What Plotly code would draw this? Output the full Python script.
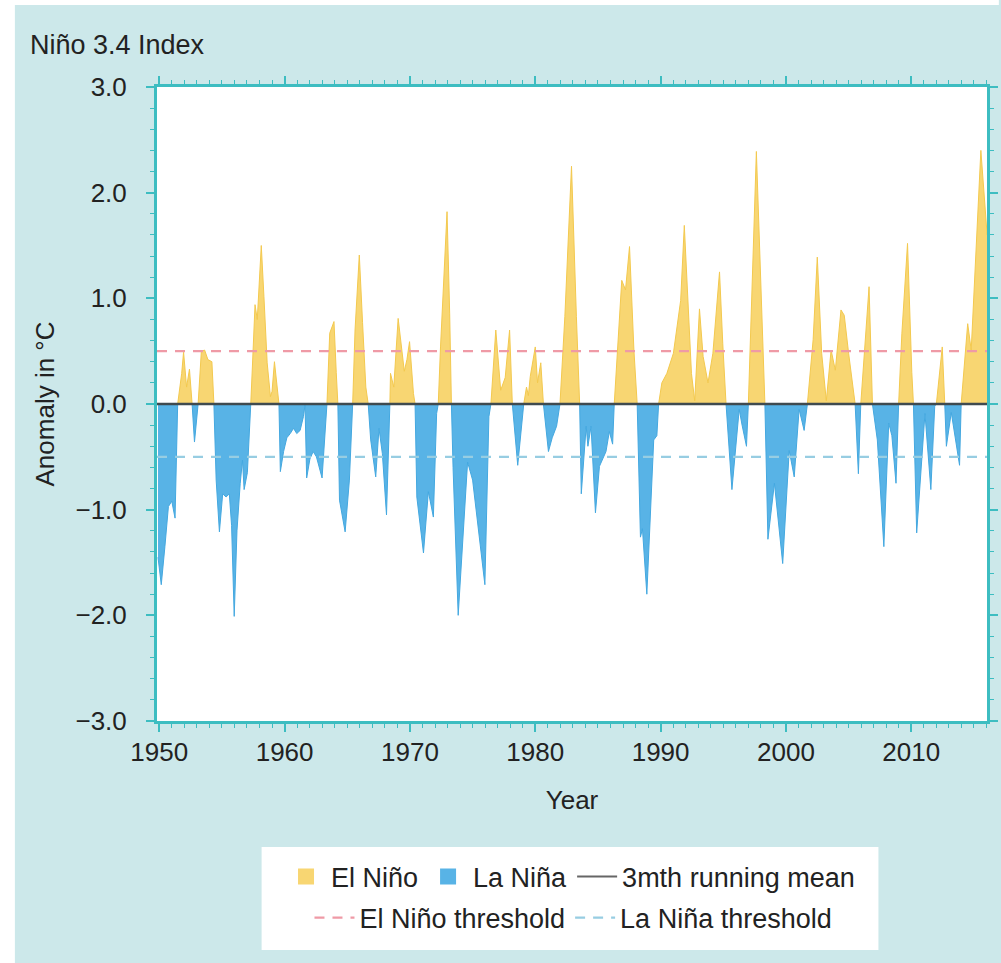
import plotly.graph_objects as go

# ---- data (3-month running mean of Niño 3.4 anomaly, °C) ----
years = [
    1949.90, 1950.16, 1950.45, 1950.73, 1951.00, 1951.26, 1951.47, 1951.79, 1951.94, 1952.18,
    1952.41, 1952.62, 1952.81, 1953.10, 1953.36, 1953.62, 1953.88, 1954.20, 1954.36, 1954.54,
    1954.80, 1955.06, 1955.33, 1955.59, 1955.77, 1955.98, 1956.20, 1956.46, 1956.64, 1956.77,
    1957.03, 1957.30, 1957.43, 1957.64, 1957.82, 1958.14, 1958.35, 1958.61, 1958.87, 1959.00,
    1959.19, 1959.45, 1959.55, 1959.66, 1959.92, 1960.18, 1960.45, 1960.71, 1960.97, 1961.24,
    1961.50, 1961.63, 1961.76, 1962.02, 1962.28, 1962.54, 1962.99, 1963.38, 1963.60, 1963.94,
    1964.12, 1964.25, 1964.38, 1964.83, 1965.17, 1965.43, 1965.62, 1965.96, 1966.22, 1966.48,
    1966.67, 1966.87, 1967.27, 1967.53, 1967.80, 1968.13, 1968.32, 1968.40, 1968.45, 1968.71,
    1969.06, 1969.37, 1969.55, 1969.76, 1969.97, 1970.28, 1970.41, 1970.55, 1971.08, 1971.47,
    1971.87, 1972.13, 1972.26, 1972.44, 1972.96, 1973.17, 1973.31, 1973.44, 1973.85, 1974.60,
    1975.00, 1975.98, 1976.30, 1976.46, 1976.85, 1977.24, 1977.60, 1977.95, 1978.17, 1978.60,
    1979.08, 1979.30, 1979.45, 1979.60, 1979.87, 1980.00, 1980.18, 1980.44, 1980.65, 1981.05,
    1981.35, 1981.70, 1981.97, 1982.36, 1982.89, 1983.28, 1983.54, 1983.67, 1984.06, 1984.20,
    1984.45, 1984.80, 1985.12, 1985.64, 1985.91, 1986.17, 1986.30, 1986.90, 1987.20, 1987.52,
    1987.87, 1988.13, 1988.39, 1988.55, 1988.90, 1989.45, 1989.70, 1989.84, 1990.10, 1990.50,
    1991.02, 1991.28, 1991.60, 1991.89, 1992.20, 1992.46, 1992.72, 1993.10, 1993.39, 1993.78,
    1994.17, 1994.70, 1994.96, 1995.22, 1995.69, 1996.27, 1996.50, 1996.85, 1997.00, 1997.64,
    1998.11, 1998.32, 1998.56, 1999.08, 1999.74, 2000.26, 2000.66, 2001.05, 2001.45, 2001.71,
    2002.17, 2002.50, 2002.85, 2003.22, 2003.60, 2003.94, 2004.39, 2004.65, 2005.00, 2005.52,
    2005.78, 2005.97, 2006.63, 2006.90, 2007.29, 2007.81, 2008.20, 2008.45, 2008.78, 2008.99,
    2009.25, 2009.70, 2010.04, 2010.17, 2010.43, 2011.09, 2011.56, 2011.87, 2012.00, 2012.47,
    2012.67, 2012.80, 2013.19, 2013.85, 2013.98, 2014.50, 2014.78, 2015.55, 2015.95, 2016.05,
]
anomaly = [
    -1.45, -1.71, -1.35, -0.97, -0.92, -1.08, 0.00, 0.29, 0.49, 0.16,
    0.33, 0.00, -0.36, 0.00, 0.50, 0.51, 0.42, 0.40, 0.00, -0.72,
    -1.21, -0.85, -0.88, -0.85, -1.15, -2.01, -1.20, -0.75, -0.53, -0.81,
    -0.65, 0.00, 0.35, 0.94, 0.80, 1.50, 1.02, 0.39, 0.07, 0.12,
    0.40, 0.15, 0.00, -0.64, -0.45, -0.32, -0.28, -0.23, -0.28, -0.25,
    -0.12, -0.01, -0.70, -0.52, -0.45, -0.50, -0.70, 0.00, 0.67, 0.78,
    0.30, 0.00, -0.91, -1.21, -0.72, 0.00, 0.70, 1.41, 0.77, 0.16,
    0.00, -0.34, -0.69, -0.23, -0.47, -1.05, -0.24, 0.00, 0.29, 0.16,
    0.81, 0.48, 0.31, 0.42, 0.59, 0.10, 0.00, -0.88, -1.41, -0.83,
    -1.07, -0.09, 0.00, 0.54, 1.82, 0.86, 0.00, -0.60, -2.00, -0.55,
    -0.72, -1.71, -0.12, 0.00, 0.70, 0.13, 0.25, 0.70, 0.00, -0.58,
    0.00, 0.16, 0.08, 0.26, 0.45, 0.54, 0.20, 0.39, 0.00, -0.45,
    -0.32, -0.21, 0.00, 0.83, 2.25, 0.83, 0.00, -0.85, -0.21, -0.40,
    -0.21, -1.03, -0.59, -0.45, -0.26, -0.38, 0.00, 1.17, 1.08, 1.49,
    0.51, 0.00, -1.26, -1.18, -1.80, -0.34, -0.30, 0.00, 0.20, 0.29,
    0.48, 0.73, 0.98, 1.69, 0.92, 0.29, 0.03, 0.90, 0.45, 0.20,
    0.48, 1.25, 0.57, 0.00, -0.81, -0.05, -0.20, -0.40, 0.00, 2.39,
    0.61, 0.00, -1.28, -0.75, -1.51, -0.44, -0.69, -0.05, -0.25, 0.00,
    0.61, 1.39, 0.48, 0.03, 0.51, 0.32, 0.89, 0.84, 0.48, 0.00,
    -0.66, 0.00, 1.11, 0.00, -0.34, -1.35, -0.18, -0.30, -0.75, 0.00,
    0.67, 1.52, 0.30, 0.00, -1.22, -0.09, -0.81, -0.02, 0.00, 0.54,
    0.00, -0.40, -0.08, -0.58, 0.00, 0.76, 0.51, 2.40, 1.80, 1.60,
]
el_nino_threshold = 0.5
la_nina_threshold = -0.5
x_range = [1949.82, 2016.04]
x_tick_values = [1950, 1960, 1970, 1980, 1990, 2000, 2010]
y_tick_values = [-3, -2, -1, 0, 1, 2, 3]

# ---- colours ----
TEAL_BG = "#cce8ea"
TEAL_AX = "#3dbdc1"
YELLOW = "#f8d672"
YELLOW_EDGE = "#f3c94f"
BLUE = "#58b3e6"
BLUE_EDGE = "#44a8e0"
RED_DASH = "#ef9aa6"
BLUE_DASH = "#97cde2"
TXT = "#222222"
FONT = "Liberation Sans, Arial, sans-serif"


def split_sign(xs, ys):
    """Insert zero crossings, then split into positive and negative parts."""
    px, py = [xs[0]], [ys[0]]
    for i in range(1, len(xs)):
        y0, y1 = ys[i - 1], ys[i]
        if y0 * y1 < 0:
            xc = xs[i - 1] + (xs[i] - xs[i - 1]) * (-y0) / (y1 - y0)
            px.append(xc)
            py.append(0.0)
        px.append(xs[i])
        py.append(ys[i])
    pos = [max(v, 0.0) for v in py]
    neg = [min(v, 0.0) for v in py]
    return px, pos, neg


xx, pos_vals, neg_vals = split_sign(years, anomaly)

fig = go.Figure()

fig.add_trace(go.Scatter(
    x=xx, y=pos_vals, mode="lines", fill="tozeroy",
    line=dict(color=YELLOW_EDGE, width=1), fillcolor=YELLOW,
    name="El Niño", legendgroup="elnino", showlegend=False,
    hovertemplate="%{x:.2f}: %{y:.2f} °C<extra></extra>",
))
fig.add_trace(go.Scatter(
    x=xx, y=neg_vals, mode="lines", fill="tozeroy",
    line=dict(color=BLUE_EDGE, width=1), fillcolor=BLUE,
    name="La Niña", legendgroup="lanina", showlegend=False,
    hovertemplate="%{x:.2f}: %{y:.2f} °C<extra></extra>",
))

# threshold lines
fig.add_trace(go.Scatter(
    x=x_range, y=[el_nino_threshold] * 2, mode="lines",
    line=dict(color=RED_DASH, width=2.2, dash="10px,8px"),
    name="El Niño threshold", legend="legend2", hoverinfo="skip",
))
fig.add_trace(go.Scatter(
    x=x_range, y=[la_nina_threshold] * 2, mode="lines",
    line=dict(color=BLUE_DASH, width=2.2, dash="10px,8px"),
    name="La Niña threshold", legend="legend2", hoverinfo="skip",
))

# legend swatches (row 1)
fig.add_trace(go.Scatter(
    x=[None], y=[None], mode="markers",
    marker=dict(symbol="square", size=16, color=YELLOW),
    name="El Niño", legendgroup="elnino", legend="legend",
))
fig.add_trace(go.Scatter(
    x=[None], y=[None], mode="markers",
    marker=dict(symbol="square", size=16, color=BLUE),
    name="La Niña", legendgroup="lanina", legend="legend",
))
fig.add_trace(go.Scatter(
    x=[None], y=[None], mode="lines",
    line=dict(color="#666666", width=2),
    name="3mth running mean", legend="legend",
))

# plot geometry (px): plot area x 157..998, y 87..721 in a 1001x963 page
L, R, T, B = 157, 3, 87, 242
W, H = 1001, 963
PW, PH = W - L - R, H - T - B


def px_x(p):
    return (p - L) / PW


def px_y(p):
    return (H - B - p) / PH


shapes = [
    # white strips outside the teal panel
    dict(type="rect", xref="paper", yref="paper", x0=px_x(-5), x1=px_x(13),
         y0=px_y(970), y1=px_y(-5), fillcolor="white", line_width=0, layer="below"),
    dict(type="rect", xref="paper", yref="paper", x0=px_x(-5), x1=px_x(1010),
         y0=px_y(5), y1=px_y(-5), fillcolor="white", line_width=0, layer="below"),
    # legend box
    dict(type="rect", xref="paper", yref="paper", x0=px_x(263), x1=px_x(888),
         y0=px_y(950), y1=px_y(847), fillcolor="white", line_width=0, layer="below"),
    # zero line
    dict(type="line", xref="paper", yref="y", x0=0, x1=1, y0=0, y1=0,
         line=dict(color="#3f4a4f", width=2.5), layer="above"),
]

axis_common = dict(
    showline=True, linecolor=TEAL_AX, linewidth=3, mirror="ticks",
    ticks="outside", ticklen=8, tickwidth=1.5, tickcolor=TEAL_AX,
    showgrid=False, zeroline=False,
    tickfont=dict(family=FONT, size=26, color=TXT),
)

fig.update_layout(
    width=W, height=H,
    margin=dict(l=L, r=R, t=T, b=B),
    paper_bgcolor=TEAL_BG, plot_bgcolor="white",
    font=dict(family=FONT, size=26, color=TXT),
    title=dict(text="Niño 3.4 Index", x=30 / W, xref="container", xanchor="left",
               y=1 - 45 / H, yref="container", yanchor="middle",
               font=dict(family=FONT, size=27, color=TXT)),
    xaxis=dict(
        range=x_range, tickmode="array", tickvals=x_tick_values,
        minor=dict(dtick=1, tick0=1950, ticks="outside", ticklen=4, tickcolor=TEAL_AX, tickwidth=1.2),
        title=dict(text="Year", standoff=25, font=dict(family=FONT, size=26, color=TXT)),
        ticklabelstandoff=-2,
        **axis_common,
    ),
    yaxis=dict(
        range=[-3, 3], tickmode="array", tickvals=y_tick_values, tickformat=".1f",
        minor=dict(dtick=0.2, tick0=0, ticks="outside", ticklen=4, tickcolor=TEAL_AX, tickwidth=1.2),
        title=dict(text="Anomaly in °C", standoff=14, font=dict(family=FONT, size=26, color=TXT)),
        ticklabelstandoff=14,
        **axis_common,
    ),
    legend=dict(
        orientation="h", x=px_x(576), xanchor="center", y=px_y(877), yanchor="middle",
        bgcolor="rgba(0,0,0,0)", font=dict(family=FONT, size=27, color=TXT),
        itemwidth=40,
    ),
    legend2=dict(
        orientation="h", x=px_x(579), xanchor="center", y=px_y(918), yanchor="middle",
        bgcolor="rgba(0,0,0,0)", font=dict(family=FONT, size=27, color=TXT),
        itemwidth=40,
    ),
    shapes=shapes,
    showlegend=True,
)

fig.write_html("out.html")
